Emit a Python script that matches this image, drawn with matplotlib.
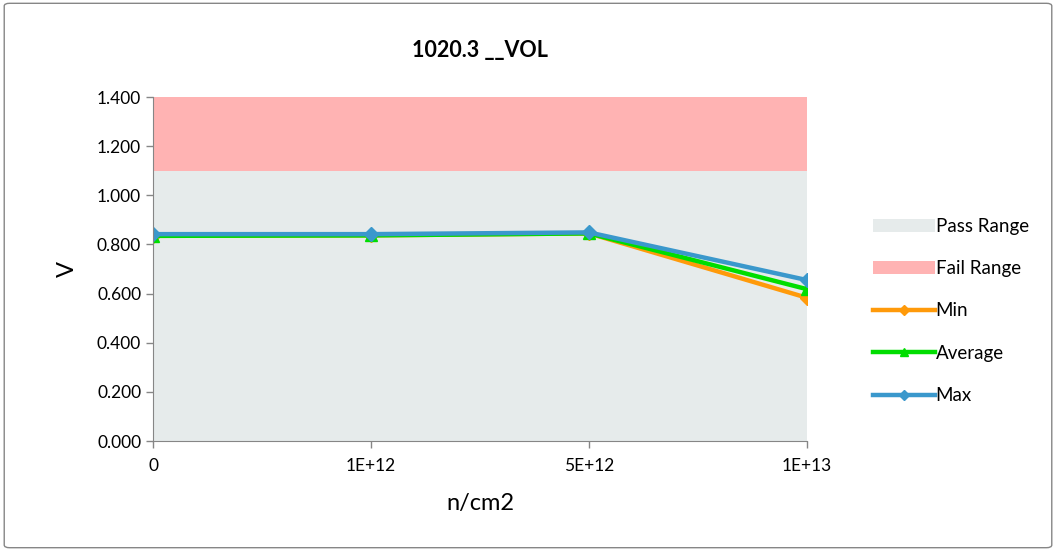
import matplotlib
matplotlib.use("Agg")
import matplotlib.pyplot as plt
from matplotlib.patches import FancyBboxPatch

# ---- data -----------------------------------------------------------
categories = ["0", "1E+12", "5E+12", "1E+13"]
v_min = [0.835, 0.837, 0.845, 0.583]
v_avg = [0.835, 0.837, 0.845, 0.618]
v_max = [0.842, 0.842, 0.849, 0.655]
pass_limit = [1.1, 1.1, 1.1, 1.1]
fail_top = [1.4, 1.4, 1.4, 1.4]

plt.rcParams["font.family"] = ["Lato", "DejaVu Sans"]

fig = plt.figure(figsize=(10.56, 5.51), dpi=100)
ax = fig.add_axes([0.1449, 0.1996, 0.6193, 0.6243])

x = list(range(len(categories)))
ax.fill_between(x, 0, pass_limit, color="#e6ebeb", linewidth=0, label="Pass Range")
ax.fill_between(x, pass_limit, fail_top, color="#ffb3b3", linewidth=0, label="Fail Range")
ax.plot(x, v_min, color="#ff9a0a", lw=3.2, marker="D", ms=7, label="Min")
ax.plot(x, v_avg, color="#00dd00", lw=3.2, marker="^", ms=8, label="Average")
ax.plot(x, v_max, color="#3a98cc", lw=3.2, marker="D", ms=7, label="Max")

ax.set_xlim(0, 3)
ax.set_ylim(0, 1.4)
ax.set_xticks(x)
ax.set_xticklabels(categories, fontsize=12.5)
ax.set_yticks([0, 0.2, 0.4, 0.6, 0.8, 1.0, 1.2, 1.4])
ax.set_yticklabels([f"{v:.3f}" for v in ax.get_yticks()], fontsize=12.5)
ax.tick_params(axis="both", color="#868686", length=5, width=1)
ax.tick_params(axis="x", pad=7)
for side in ("top", "right"):
    ax.spines[side].set_visible(False)
for side in ("left", "bottom"):
    ax.spines[side].set_color("#868686")
ax.set_xlabel("n/cm2", fontsize=17, labelpad=14)
ax.set_ylabel("V", fontsize=17, labelpad=14)
ax.set_title("1020.3 __VOL", fontsize=15.5, fontweight="bold", pad=29)

ax.legend(loc="center left", bbox_to_anchor=(1.075, 0.378), frameon=False,
          fontsize=13.5, labelspacing=1.35, handlelength=3.3, handletextpad=0.05,
          markerscale=0.8)

border = FancyBboxPatch((0.004, 0.006), 0.992, 0.988, boxstyle="round,pad=0,rounding_size=0.005",
                        transform=fig.transFigure, fill=False, edgecolor="#868686", lw=1)
fig.patches.append(border)

fig.savefig("out.png", dpi=100)
